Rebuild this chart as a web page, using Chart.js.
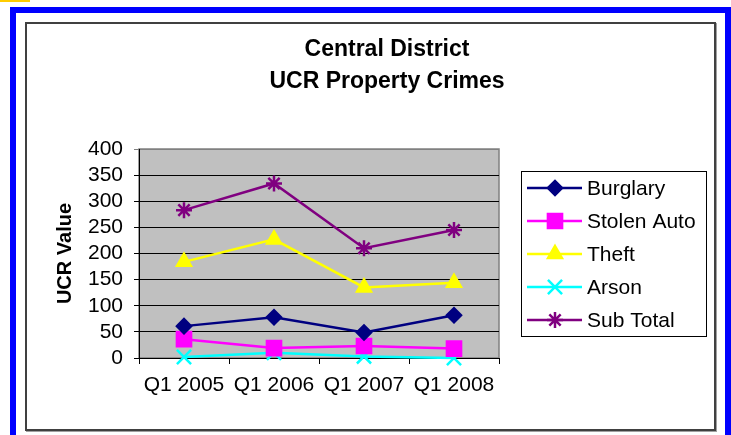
<!DOCTYPE html>
<html>
<head>
<meta charset="utf-8">
<script src="https://cdn.jsdelivr.net/npm/chart.js@4/dist/chart.umd.min.js"></script>
<style>
  html, body { margin: 0; padding: 0; background: #fff; }
  #wrap { position: relative; width: 731px; height: 435px; overflow: hidden; }
  #strip { position: absolute; left: 0; top: 0; width: 30px; height: 2px; background: #ffcc00; }
  #frame { position: absolute; left: 10px; top: 7px; width: 709px; height: 440px; border: 6px solid #0000ff; }
  #box { position: absolute; left: 25px; top: 22px; width: 687px; height: 405px; border: 2px solid #404040; box-shadow: 1px 1px 0 #a0a0a0; }
  #c { position: absolute; left: 0; top: 0; }
</style>
</head>
<body>
<div id="wrap">
  <div id="strip"></div>
  <div id="frame"></div>
  <div id="box"></div>
  <canvas id="c" width="731" height="435"></canvas>
</div>
<script>
const quarters = ['Q1 2005', 'Q1 2006', 'Q1 2007', 'Q1 2008'];
const burglary = [61, 78, 49, 82];
const stolenAuto = [36, 19, 23, 18];
const theft = [184, 227, 135, 144];
const arson = [2, 10, 3, 0];
const subTotal = [283, 334, 210, 245];
const titleLines = ['Central District', 'UCR Property Crimes'];

const FONT = 'Arial, "Liberation Sans", sans-serif';

function series(label, data, color, style, radius) {
  return {
    label, data,
    borderColor: color, backgroundColor: color,
    pointBackgroundColor: color, pointBorderColor: color,
    pointStyle: style, pointRadius: radius, pointHoverRadius: radius,
    pointBorderWidth: 2.5, borderWidth: 2.5, tension: 0, clip: false
  };
}

// grey plot area + title + boxed legend
const decor = {
  id: 'decor',
  beforeDraw(chart) {
    const {ctx, chartArea: a} = chart;
    ctx.save();
    ctx.fillStyle = '#c0c0c0';
    ctx.fillRect(a.left, a.top, a.right - a.left, a.bottom - a.top);
    ctx.strokeStyle = '#808080';
    ctx.lineWidth = 1.5;
    ctx.strokeRect(a.left, a.top, a.right - a.left, a.bottom - a.top);
    ctx.restore();
  },
  afterDraw(chart) {
    const ctx = chart.ctx;
    ctx.save();
    ctx.fillStyle = '#000';
    ctx.font = 'bold 23px ' + FONT;
    ctx.textAlign = 'center';
    ctx.textBaseline = 'middle';
    ctx.fillText(titleLines[0], 387, 50);
    ctx.fillText(titleLines[1], 387, 82);

    // legend
    ctx.strokeStyle = '#000';
    ctx.lineWidth = 1;
    ctx.strokeRect(521.5, 171.5, 185, 165);
    ctx.font = '21px ' + FONT;
    ctx.textAlign = 'left';
    chart.data.datasets.forEach((ds, i) => {
      const y = 188 + i * 33;
      ctx.strokeStyle = ds.borderColor;
      ctx.lineWidth = 2.5;
      ctx.beginPath();
      ctx.moveTo(527, y);
      ctx.lineTo(582, y);
      ctx.stroke();
      ctx.fillStyle = ds.borderColor;
      ctx.lineWidth = 2.5;
      Chart.helpers.drawPoint(ctx, {pointStyle: ds.pointStyle, radius: ds.pointRadius, rotation: 0, borderWidth: 2.5}, 555, y);
      ctx.fillStyle = '#000';
      ctx.fillText(ds.label, 587, y + 1);
    });
    ctx.restore();
  }
};

new Chart(document.getElementById('c'), {
  type: 'line',
  data: {
    labels: quarters,
    datasets: [
      series('Burglary', burglary, '#000080', 'rectRot', 7),
      series('Stolen Auto', stolenAuto, '#ff00ff', 'rect', 10),
      series('Theft', theft, '#ffff00', 'triangle', 8),
      series('Arson', arson, '#00ffff', 'crossRot', 10),
      series('Sub Total', subTotal, '#800080', 'star', 8)
    ]
  },
  options: {
    responsive: false,
    animation: false,
    layout: { padding: { left: 30, right: 232, top: 149, bottom: 20 } },
    plugins: { legend: { display: false }, title: { display: false }, tooltip: { enabled: false } },
    scales: {
      x: {
        offset: true,
        grid: { offset: true, drawOnChartArea: false, drawTicks: true, tickLength: 6, color: '#000' },
        border: { color: '#000', width: 1 },
        ticks: { color: '#000', font: { family: FONT, size: 21 }, padding: 9, maxRotation: 0, autoSkip: false },
        afterFit(s) { s.height = 57; }
      },
      y: {
        min: 0, max: 400,
        grid: { color: c => c.tick && c.tick.value === 400 ? '#808080' : '#000', tickLength: 5 },
        border: { color: '#000', width: 1 },
        ticks: { stepSize: 50, autoSkip: false, color: '#000', font: { family: FONT, size: 21 }, padding: 11 },
        title: { display: true, text: 'UCR Value', color: '#000', font: { family: FONT, size: 20, weight: 'bold' }, padding: { top: 23 } },
        afterFit(s) { s.width = 109; }
      }
    }
  },
  plugins: [decor]
});
</script>
</body>
</html>
